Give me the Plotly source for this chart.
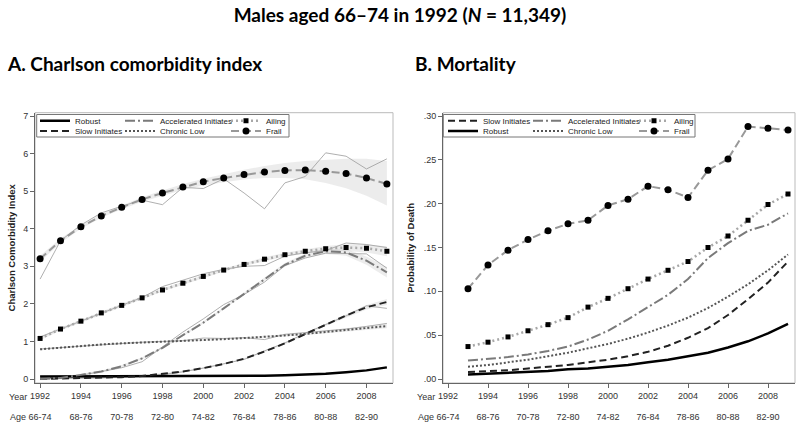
import plotly.graph_objects as go

# años y grupos de edad
years = list(range(1992, 2010))
years_m = list(range(1993, 2010))
tick_years = [1992, 1994, 1996, 1998, 2000, 2002, 2004, 2006, 2008]
tick_ages = ["66-74", "68-76", "70-78", "72-80", "74-82", "76-84", "78-86", "80-88", "82-90"]

# A. Charlson comorbidity index (ajustado, observado, IC)
robust_cci = [0.07, 0.07, 0.07, 0.07, 0.07, 0.07, 0.07, 0.07, 0.07, 0.08, 0.08, 0.09, 0.10, 0.12, 0.14, 0.18, 0.23, 0.31]

slow_cci = [0.00, 0.01, 0.02, 0.03, 0.05, 0.08, 0.13, 0.20, 0.29, 0.40, 0.54, 0.73, 0.95, 1.20, 1.45, 1.69, 1.91, 2.05]
slow_obs = [0.01, 0.01, 0.02, 0.03, 0.05, 0.07, 0.12, 0.19, 0.29, 0.41, 0.52, 0.75, 0.96, 1.22, 1.45, 1.68, 1.95, 1.88]
slow_lo = [-0.02, -0.01, 0.00, 0.01, 0.03, 0.06, 0.11, 0.18, 0.27, 0.38, 0.52, 0.71, 0.92, 1.17, 1.41, 1.64, 1.85, 1.97]
slow_hi = [0.02, 0.03, 0.04, 0.05, 0.07, 0.10, 0.15, 0.22, 0.31, 0.42, 0.56, 0.75, 0.98, 1.23, 1.49, 1.74, 1.97, 2.13]

accel_cci = [0.00, 0.03, 0.11, 0.20, 0.34, 0.55, 0.83, 1.17, 1.50, 1.88, 2.27, 2.66, 3.04, 3.28, 3.40, 3.37, 3.15, 2.84]
accel_obs = [0.02, 0.03, 0.10, 0.19, 0.30, 0.46, 0.85, 1.25, 1.60, 1.98, 2.25, 2.58, 3.02, 3.22, 3.35, 3.33, 3.33, 2.95]
accel_lo = [-0.03, 0.00, 0.08, 0.17, 0.31, 0.52, 0.80, 1.14, 1.47, 1.85, 2.24, 2.62, 2.99, 3.22, 3.33, 3.28, 3.04, 2.70]
accel_hi = [0.03, 0.06, 0.14, 0.23, 0.37, 0.58, 0.86, 1.20, 1.53, 1.91, 2.30, 2.70, 3.09, 3.34, 3.47, 3.46, 3.26, 2.98]

chronic_cci = [0.79, 0.84, 0.88, 0.92, 0.95, 0.97, 0.99, 1.01, 1.04, 1.06, 1.09, 1.12, 1.16, 1.20, 1.25, 1.30, 1.35, 1.41]
chronic_obs = [0.80, 0.84, 0.88, 0.92, 0.95, 0.98, 1.00, 1.02, 1.09, 1.08, 1.10, 1.05, 1.19, 1.24, 1.27, 1.33, 1.40, 1.48]
chronic_lo = [0.77, 0.82, 0.86, 0.90, 0.93, 0.95, 0.97, 0.99, 1.02, 1.04, 1.07, 1.10, 1.13, 1.17, 1.21, 1.26, 1.30, 1.35]
chronic_hi = [0.81, 0.86, 0.90, 0.94, 0.97, 0.99, 1.01, 1.03, 1.06, 1.08, 1.11, 1.14, 1.19, 1.23, 1.29, 1.34, 1.40, 1.47]

ailing_cci = [1.08, 1.33, 1.54, 1.76, 1.96, 2.16, 2.37, 2.55, 2.73, 2.90, 3.05, 3.19, 3.31, 3.40, 3.47, 3.50, 3.48, 3.40]
ailing_obs = [1.12, 1.33, 1.55, 1.76, 1.96, 2.17, 2.46, 2.62, 2.80, 2.92, 3.00, 3.02, 3.27, 3.36, 3.42, 3.62, 3.58, 3.50]
ailing_lo = [1.03, 1.29, 1.50, 1.72, 1.92, 2.12, 2.33, 2.51, 2.69, 2.86, 3.01, 3.14, 3.26, 3.34, 3.40, 3.41, 3.37, 3.27]
ailing_hi = [1.13, 1.37, 1.58, 1.80, 2.00, 2.20, 2.41, 2.59, 2.77, 2.94, 3.09, 3.24, 3.36, 3.46, 3.54, 3.59, 3.59, 3.53]

frail_cci = [3.20, 3.68, 4.05, 4.34, 4.57, 4.78, 4.95, 5.11, 5.25, 5.35, 5.44, 5.51, 5.55, 5.56, 5.53, 5.47, 5.35, 5.19]
frail_obs = [2.66, 3.68, 4.10, 4.42, 4.60, 4.76, 4.64, 5.10, 5.07, 5.33, 4.95, 4.53, 5.22, 5.39, 6.02, 5.93, 5.59, 5.86]
frail_lo = [3.12, 3.62, 4.00, 4.29, 4.52, 4.72, 4.88, 5.03, 5.15, 5.24, 5.31, 5.35, 5.35, 5.32, 5.22, 5.08, 4.88, 4.62]
frail_hi = [3.28, 3.74, 4.10, 4.39, 4.62, 4.84, 5.02, 5.19, 5.33, 5.46, 5.57, 5.67, 5.75, 5.80, 5.84, 5.86, 5.86, 5.80]

# B. Mortality (probabilidad de muerte, 1993-2009)
robust_m = [0.005, 0.006, 0.007, 0.008, 0.009, 0.011, 0.012, 0.014, 0.016, 0.019, 0.022, 0.026, 0.030, 0.036, 0.043, 0.052, 0.063]
slow_m = [0.008, 0.009, 0.010, 0.012, 0.014, 0.016, 0.019, 0.022, 0.026, 0.031, 0.038, 0.047, 0.058, 0.073, 0.091, 0.110, 0.134]
accel_m = [0.021, 0.023, 0.025, 0.028, 0.032, 0.037, 0.045, 0.055, 0.068, 0.082, 0.096, 0.114, 0.138, 0.155, 0.169, 0.176, 0.189]
chronic_m = [0.014, 0.016, 0.019, 0.022, 0.026, 0.030, 0.035, 0.040, 0.046, 0.053, 0.061, 0.070, 0.081, 0.094, 0.108, 0.124, 0.142]
ailing_m = [0.037, 0.042, 0.048, 0.055, 0.062, 0.070, 0.082, 0.092, 0.103, 0.114, 0.124, 0.134, 0.150, 0.163, 0.181, 0.199, 0.211]
frail_m = [0.103, 0.130, 0.147, 0.159, 0.169, 0.177, 0.181, 0.198, 0.205, 0.220, 0.216, 0.207, 0.238, 0.251, 0.288, 0.286, 0.284]

# estilos por grupo: (color, dash, ancho, marcador, tamaño)
STYLE = {
    "Robust": ("#000000", "solid", 2.5, None, 0),
    "Slow Initiates": ("#222222", "7px,4px", 2, None, 0),
    "Accelerated Initiates": ("#7a7a7a", "10px,3px,2px,3px", 2, None, 0),
    "Chronic Low": ("#555555", "2px,2px", 2, None, 0),
    "Ailing": ("#a8a8a8", "2px,3px", 2.5, "square", 5),
    "Frail": ("#999999", "8px,4px", 2, "circle", 7),
}

SANS = "Liberation Sans, Arial, sans-serif"
CAL = "Lato, Open Sans, sans-serif"

fig = go.Figure()


def add_band(x, lo, hi, xa, ya):
    fig.add_trace(go.Scatter(x=x + x[::-1], y=hi + lo[::-1], fill="toself",
                             fillcolor="rgba(200,200,200,0.35)", line=dict(width=0),
                             mode="lines", showlegend=False, hoverinfo="skip",
                             xaxis=xa, yaxis=ya))


def add_obs(x, y, xa, ya):
    fig.add_trace(go.Scatter(x=x, y=y, mode="lines", line=dict(color="#9a9a9a", width=0.8),
                             showlegend=False, hoverinfo="skip", xaxis=xa, yaxis=ya))


def add_fit(x, y, name, xa, ya, legend, lw):
    color, dash, width, symbol, size = STYLE[name]
    fig.add_trace(go.Scatter(
        x=x, y=y, name=name,
        mode="lines+markers" if symbol else "lines",
        line=dict(color=color, dash=dash, width=width),
        marker=dict(symbol=symbol or "circle", size=size, color="black"),
        legend=legend, legendwidth=lw, xaxis=xa, yaxis=ya))


# bandas de confianza y valores observados (panel A)
for lo, hi in [(frail_lo, frail_hi), (ailing_lo, ailing_hi), (accel_lo, accel_hi),
               (slow_lo, slow_hi), (chronic_lo, chronic_hi)]:
    add_band(years, lo, hi, "x", "y")
for obs in [frail_obs, ailing_obs, accel_obs, slow_obs, chronic_obs]:
    add_obs(years, obs, "x", "y")

# curvas ajustadas panel A (fila 1: legend, fila 2: legend2)
add_fit(years, robust_cci, "Robust", "x", "y", "legend", 40)
add_fit(years, slow_cci, "Slow Initiates", "x", "y", "legend2", 40)
add_fit(years, accel_cci, "Accelerated Initiates", "x", "y", "legend", 61)
add_fit(years, chronic_cci, "Chronic Low", "x", "y", "legend2", 61)
add_fit(years, ailing_cci, "Ailing", "x", "y", "legend", 25)
add_fit(years, frail_cci, "Frail", "x", "y", "legend2", 25)

# panel B (fila 1: legend3, fila 2: legend4)
add_fit(years_m, robust_m, "Robust", "x2", "y2", "legend4", 40)
add_fit(years_m, slow_m, "Slow Initiates", "x2", "y2", "legend3", 40)
add_fit(years_m, accel_m, "Accelerated Initiates", "x2", "y2", "legend3", 61)
add_fit(years_m, chronic_m, "Chronic Low", "x2", "y2", "legend4", 61)
add_fit(years_m, ailing_m, "Ailing", "x2", "y2", "legend3", 25)
add_fit(years_m, frail_m, "Frail", "x2", "y2", "legend4", 25)

# ejes de edad superpuestos (sin marcas visibles)
fig.add_trace(go.Scatter(x=[], y=[], xaxis="x3", yaxis="y", showlegend=False))
fig.add_trace(go.Scatter(x=[], y=[], xaxis="x4", yaxis="y2", showlegend=False))

W, H = 800, 429
ydom = [(H - 383) / H, (H - 112.7) / H]
tickfont = dict(family=SANS, size=9, color="#333")
axis_common = dict(showgrid=False, zeroline=False, showline=True, linecolor="#666",
                   ticks="outside", ticklen=4, tickcolor="#666", tickfont=tickfont)
age_common = dict(anchor="free", position=(H - 410) / H, side="bottom", showgrid=False,
                  zeroline=False, showline=False, ticks="", tickvals=tick_years,
                  ticktext=tick_ages, tickfont=tickfont)


def legend_row(x_px, y_px):
    return dict(orientation="h", x=x_px / W, y=(H - y_px) / H, xanchor="left", yanchor="middle",
                bgcolor="rgba(0,0,0,0)", borderwidth=0, itemwidth=30,
                font=dict(family=SANS, size=8, color="#222"))


fig.update_layout(
    width=W, height=H,
    margin=dict(l=0, r=0, t=0, b=0, autoexpand=False),
    paper_bgcolor="white", plot_bgcolor="white",
    title=dict(text="<b>Males aged 66\u201374 in 1992 (<i>N</i> = 11,349)</b>",
               x=0.5, xanchor="center", y=1 - 15 / H, yanchor="middle",
               font=dict(family=CAL, size=19, color="black")),
    xaxis=dict(domain=[35 / W, 393 / W], range=[1991.75, 2009.3], anchor="y",
               tickvals=tick_years, ticktext=[str(t) for t in tick_years], **axis_common),
    xaxis3=dict(overlaying="x", range=[1991.75, 2009.3], **age_common),
    yaxis=dict(domain=ydom, range=[-0.106, 7.088], anchor="x", tickvals=list(range(8)),
               title=dict(text="<b>Charlson Comorbidity Index</b>", standoff=5,
                          font=dict(family=SANS, size=9.5, color="#222")),
               **axis_common),
    xaxis2=dict(domain=[443 / W, 795 / W], range=[1991.75, 2009.35], anchor="y2",
                tickvals=tick_years, ticktext=[str(t) for t in tick_years], **axis_common),
    xaxis4=dict(overlaying="x2", range=[1991.75, 2009.35], **age_common),
    yaxis2=dict(domain=ydom, range=[-0.00456, 0.30376], anchor="x2",
                tickvals=[0, 0.05, 0.10, 0.15, 0.20, 0.25, 0.30],
                ticktext=[".00", ".05", ".10", ".15", ".20", ".25", ".30"],
                title=dict(text="<b>Probability of Death</b>", standoff=7,
                           font=dict(family=SANS, size=9.5, color="#222")),
                **axis_common),
    legend=legend_row(35, 120.8),
    legend2=legend_row(35, 131.0),
    legend3=legend_row(443, 120.8),
    legend4=legend_row(443, 131.0),
)

# marco del area de trazado y cajas de leyenda
for xr, yr in [("x domain", "y domain"), ("x2 domain", "y2 domain")]:
    fig.add_shape(type="rect", xref=xr, yref=yr, x0=0, x1=1, y0=0, y1=1,
                  line=dict(color="#bbbbbb", width=1), layer="below")
for x0, x1 in [(36.7, 289), (443.3, 695)]:
    fig.add_shape(type="rect", xref="paper", yref="paper", x0=x0 / W, x1=x1 / W,
                  y0=(H - 137) / H, y1=(H - 114.5) / H,
                  line=dict(color="#777777", width=1), fillcolor="white", layer="below")

# titulos de paneles y etiquetas Year / Age
fig.add_annotation(text="<b>A. Charlson comorbidity index</b>", x=5 / W, y=(H - 63) / H,
                   xref="paper", yref="paper", xanchor="left", yanchor="middle",
                   showarrow=False, font=dict(family=CAL, size=19, color="black"))
fig.add_annotation(text="<b>B. Mortality</b>", x=413 / W, y=(H - 63) / H,
                   xref="paper", yref="paper", xanchor="left", yanchor="middle",
                   showarrow=False, font=dict(family=CAL, size=19, color="black"))
for x_px in [7, 415]:
    fig.add_annotation(text="Year", x=x_px / W, y=(H - 397) / H, xref="paper", yref="paper",
                       xanchor="left", yanchor="middle", showarrow=False, font=tickfont)
    fig.add_annotation(text="Age", x=(x_px + 1) / W, y=(H - 417) / H, xref="paper", yref="paper",
                       xanchor="left", yanchor="middle", showarrow=False, font=tickfont)

# quitar el margen por defecto del body para que la figura empiece en (0, 0)
fig.write_html("out.html", config={"displayModeBar": False},
               post_script="document.body.style.margin='0px';")
